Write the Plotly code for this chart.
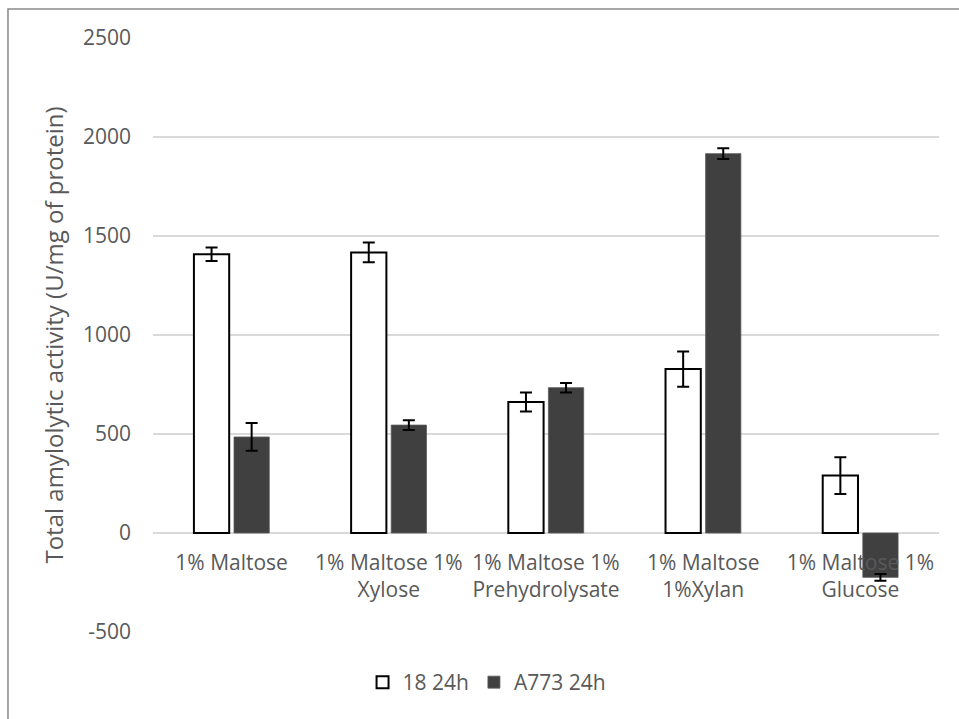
import plotly.graph_objects as go

# Carbon source conditions (x categories)
categories = [
    "1% Maltose",
    "1% Maltose 1%<br>Xylose",
    "1% Maltose 1%<br>Prehydrolysate",
    "1% Maltose<br>1%Xylan",
    "1% Maltose 1%<br>Glucose",
]

# Total amylolytic activity (U/mg of protein) and standard deviations
strain_18 = [1408, 1417, 662, 828, 290]
strain_18_err = [34, 50, 48, 89, 93]
strain_a773 = [485, 545, 734, 1916, -224]
strain_a773_err = [70, 25, 24, 27, 17]

y_ticks = [-500, 0, 500, 1000, 1500, 2000, 2500]
y_tick_labels = ["-500", "0", "500", "1000", "1500", "2000", "2500"]

font_family = "Open Sans"
text_color = "#595959"
tick_size = 21
title_size = 24

fig = go.Figure()

fig.add_trace(go.Bar(
    name="18 24h",
    x=categories,
    y=strain_18,
    marker=dict(color="white", line=dict(color="black", width=2)),
    error_y=dict(type="data", array=strain_18_err, visible=True,
                 color="black", thickness=2, width=6),
))

fig.add_trace(go.Bar(
    name="A773 24h",
    x=categories,
    y=strain_a773,
    marker=dict(color="#404040", line=dict(color="#5a5a5a", width=0.8)),
    error_y=dict(type="data", array=strain_a773_err, visible=True,
                 color="black", thickness=2, width=6),
))

fig.update_layout(
    width=959,
    height=719,
    margin=dict(l=153, r=20, t=37.5, b=86.7),
    paper_bgcolor="white",
    plot_bgcolor="white",
    barmode="group",
    bargap=0.49,
    bargroupgap=0.12,
    font=dict(family=font_family, size=tick_size, color=text_color),
    showlegend=True,
    legend=dict(
        orientation="h",
        x=0.425, xanchor="center",
        y=-0.085, yanchor="middle",
        font=dict(family=font_family, size=tick_size, color=text_color),
        itemwidth=30,
        traceorder="normal",
    ),
    shapes=[
        # outer chart frame
        dict(type="rect", xref="paper", yref="paper",
             x0=-0.1845, x1=1.2, y0=-0.4, y1=1.049,
             line=dict(color="#898989", width=1.5), fillcolor="rgba(0,0,0,0)",
             layer="below"),
    ],
)

fig.update_xaxes(
    anchor="free",
    position=500 / 3000,
    showline=False,
    showgrid=False,
    ticks="",
    ticklabelstandoff=15,
    tickfont=dict(family=font_family, size=tick_size, color=text_color),
)

fig.update_yaxes(
    range=[-500, 2500],
    tickvals=y_ticks,
    ticktext=y_tick_labels,
    showgrid=True,
    gridcolor="#d9d9d9",
    gridwidth=1.5,
    zeroline=True,
    zerolinecolor="#d9d9d9",
    zerolinewidth=1.5,
    showline=False,
    ticks="",
    ticklabelstandoff=21,
    tickfont=dict(family=font_family, size=tick_size, color=text_color),
    title=dict(text="Total amylolytic activity (U/mg of protein)",
               font=dict(family=font_family, size=title_size, color=text_color),
               standoff=12),
)

fig.write_html("out.html")
